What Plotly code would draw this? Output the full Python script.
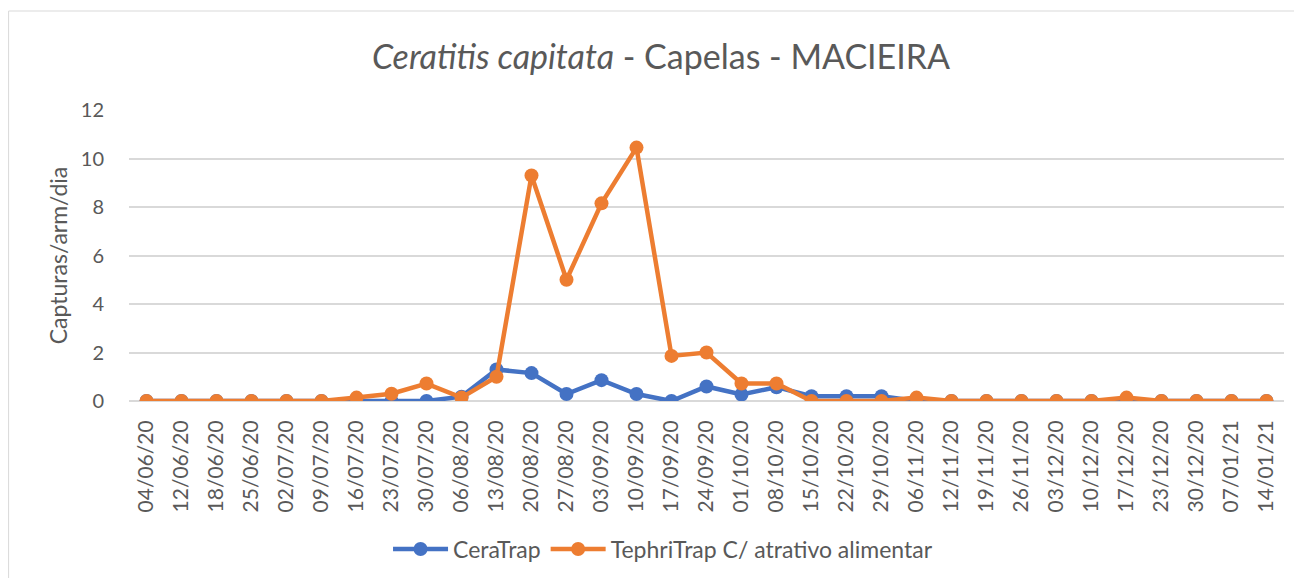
import plotly.graph_objects as go

dates = ["04/06/20", "12/06/20", "18/06/20", "25/06/20", "02/07/20", "09/07/20", "16/07/20",
         "23/07/20", "30/07/20", "06/08/20", "13/08/20", "20/08/20", "27/08/20", "03/09/20",
         "10/09/20", "17/09/20", "24/09/20", "01/10/20", "08/10/20", "15/10/20", "22/10/20",
         "29/10/20", "06/11/20", "12/11/20", "19/11/20", "26/11/20", "03/12/20", "10/12/20",
         "17/12/20", "23/12/20", "30/12/20", "07/01/21", "14/01/21"]

ceratrap = [0, 0, 0, 0, 0, 0, 0, 0, 0, 0.18, 1.3, 1.15, 0.29, 0.86, 0.29, 0, 0.6, 0.27, 0.57,
            0.2, 0.2, 0.2, 0, 0, 0, 0, 0, 0, 0, 0, 0, 0, 0]
tephritrap = [0, 0, 0, 0, 0, 0, 0.14, 0.3, 0.72, 0.14, 1.0, 9.3, 5.0, 8.15, 10.45, 1.86, 2.0,
              0.72, 0.72, 0, 0, 0, 0.14, 0, 0, 0, 0, 0, 0.14, 0, 0, 0, 0]

y_ticks = [0, 2, 4, 6, 8, 10, 12]

FONT = "Lato, 'Open Sans', sans-serif"
GREY = "#595959"

# page body has an 8px margin, so the figure is drawn 8px smaller
W, H = 1294, 570
L, R, T, B = 120.5, 17.5, 102, 177
PW, PH = W - L - R, H - T - B

fig = go.Figure()
fig.add_trace(go.Scatter(
    x=dates, y=ceratrap, name="CeraTrap", mode="lines+markers",
    line=dict(color="#4472C4", width=4.5),
    marker=dict(color="#4472C4", size=14)))
fig.add_trace(go.Scatter(
    x=dates, y=tephritrap, name="TephriTrap C/ atrativo alimentar", mode="lines+markers",
    line=dict(color="#ED7D31", width=4.5),
    marker=dict(color="#ED7D31", size=14)))

fig.update_layout(
    width=W, height=H,
    margin=dict(l=L, r=R, t=T, b=B, autoexpand=False),
    paper_bgcolor="white", plot_bgcolor="white",
    font=dict(family=FONT, color=GREY),
    title=dict(text="<i>Ceratitis capitata</i> - Capelas - MACIEIRA",
               x=653 / W, xanchor="center", y=1 - 49 / H, yanchor="middle",
               font=dict(size=34, color=GREY, family=FONT)),
    showlegend=True,
    legend=dict(orientation="h", x=(655 - L) / PW, xanchor="center",
                y=-(541 - (T + PH)) / PH, yanchor="middle", itemwidth=55,
                font=dict(size=23, color=GREY), tracegroupgap=0),
    xaxis=dict(type="category", tickangle=-90, tickfont=dict(size=21, color=GREY),
               showgrid=False, showline=False, ticks="outside", ticklen=10,
               tickcolor="rgba(0,0,0,0)", range=[-0.5, len(dates) - 0.5]),
    yaxis=dict(range=[0, 12], tickvals=y_ticks, tickfont=dict(size=20, color=GREY),
               showgrid=True, gridcolor="#d9d9d9", gridwidth=1.5, zeroline=True,
               zerolinecolor="#d9d9d9", zerolinewidth=1.5, ticks="outside", ticklen=20,
               tickcolor="rgba(0,0,0,0)",
               title=dict(text="Capturas/arm/dia", font=dict(size=23, color=GREY), standoff=6)),
)

# outer chart border
fig.add_shape(type="rect", xref="paper", yref="paper",
              x0=(0 - L) / PW, x1=(W + 20 - L) / PW,
              y0=(T + PH - (H + 20)) / PH, y1=(T + PH - 3) / PH,
              line=dict(color="#d9d9d9", width=1), layer="below")

fig.write_html("out.html")
